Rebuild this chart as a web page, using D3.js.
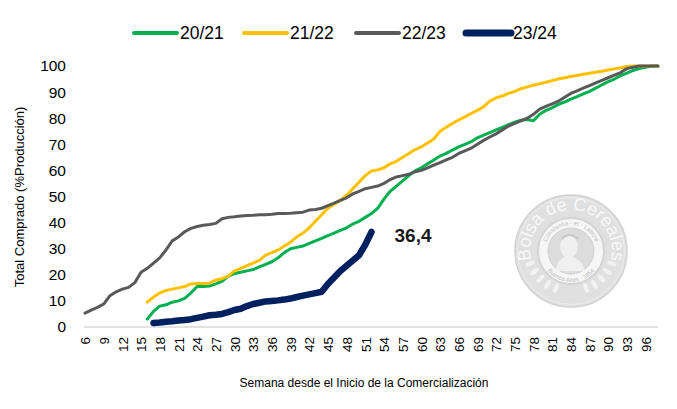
<!DOCTYPE html>
<html>
<head>
<meta charset="utf-8">
<script src="https://cdn.jsdelivr.net/npm/d3@7/dist/d3.min.js"></script>
<style>
  html, body { margin: 0; padding: 0; background: #fff; }
  svg { display: block; }
  text { font-family: "Liberation Sans", Arial, sans-serif; }
</style>
</head>
<body>
<svg id="chart" width="677" height="409"></svg>
<script>
// ---------- DATA ----------
const weeks = [6,7,8,9,10,11,12,13,14,15,16,17,18,19,20,21,22,23,24,25,26,27,28,29,30,31,32,33,34,35,36,37,38,39,40,41,42,43,44,45,46,47,48,49,50,51,52,53,54,55,56,57,58,59,60,61,62,63,64,65,66,67,68,69,70,71,72,73,74,75,76,77,78,79,80,81,82,83,84,85,86,87,88,89,90,91,92,93,94,95,96,97,98];
const tickWeeks = [6,9,12,15,18,21,24,27,30,33,36,39,42,45,48,51,54,57,60,63,66,69,72,75,78,81,84,87,90,93,96];
const yTicks = [0,10,20,30,40,50,60,70,80,90,100];
const seriesNames = ["20/21","21/22","22/23","23/24"];

// values aligned with weeks (null = no data)
const s2021 = [null,null,null,null,null,null,null,null,null,null,
  3,6,8,8.5,9.5,10,11,13,15.5,15.5,15.7,16.5,17.5,19.5,20.5,21,21.5,22,23,24,25,26.5,28.5,30,30.5,31,32,33,34,35,36,37,38,39.5,
  40.5,42,43.5,45.5,49,52,54,56,58,59.8,61,62.5,64,65.5,66.5,67.8,69,70,71,72.5,73.5,74.5,75.5,76.5,77.5,78.5,79.2,79.5,79,81.5,
  83,84,85.3,86.2,87.3,88.3,89.3,90.3,91.5,92.8,94,95,96.3,97.3,98.3,99,99.5,100,100];
const s2122 = [null,null,null,null,null,null,null,null,null,null,
  9.5,11.5,13,14,14.5,15,15.5,16.5,16.7,16.7,16.8,18,18.5,19.5,21.5,22.5,23.5,24.5,25.5,27.5,28.5,29.5,31,32.5,34.5,36,38,40.5,43,45.5,
  47,48.5,50.5,53,55.5,58,59.8,60.2,61,62.5,63.5,65,66.5,68,69,70.5,72,75,76.5,78,79.3,80.5,81.8,83,84.4,86.5,87.8,88.5,89.5,90.3,
  91.3,92,92.6,93.2,93.8,94.4,95,95.5,96,96.4,96.8,97.2,97.6,98,98.5,98.9,99.3,99.8,100,100,100,100,100];
const s2223 = [5.3,6.5,7.5,8.8,12,13.5,14.5,15.2,17,21,22.5,24.5,26.5,29.5,33,34.5,36.5,37.8,38.5,39,39.3,39.7,41.5,42,42.2,42.5,42.7,42.8,43,43,
  43.2,43.5,43.5,43.6,43.8,44,44.8,45,45.5,46.5,47.5,48.5,49.5,51,52,53,53.5,54,55,56.5,57.5,58,58.5,59.5,60,61,62,63,64,65,
  66.5,67.5,68.5,70,71.5,72.8,74,75.5,77,78,79,80,81.5,83.5,84.5,85.5,86.5,88,89.5,90.5,91.5,92.5,93.5,94.5,95.5,96.5,97.5,99,99.5,100,
  100,100,100];
const s2324 = [null,null,null,null,null,null,null,null,null,null,null,
  1.5,1.7,2,2.2,2.5,2.7,3,3.5,4,4.5,4.7,5,5.7,6.5,7,8,8.8,9.3,9.8,10,10.2,10.5,10.9,11.5,12,12.5,13,13.5,16.5,19,21.5,23.5,25.5,27.5,31.5,36.4,
  null,null,null,null,null,null,null,null,null,null,null,null,null,null,null,null,null,null,null,null,null,null,null,null,null,null,null,null,null,null,null,null,null,null,null,null,null,null,null,null,null,null,null,null,null,null];
const lastLabel = "36,4";
const logoTexts = ["Bolsa de Cereales", "· Constantia · et · Labore ·", "Buenos Aires · 1854"];

// ---------- STYLE ----------
const colors = ["#00b050","#ffc000","#595959","#002060"];
const widths = [3,3,3,6.5];
const allSeries = [s2021, s2122, s2223, s2324];

const svg = d3.select("#chart");

// ---------- WATERMARK ----------
(function watermark(){
  const cx = 571, cy = 251;
  const g = svg.append("g").attr("transform", `translate(${cx},${cy})`);
  g.append("circle").attr("r", 56).attr("fill", "#e0e0e0").attr("stroke", "#d3d3d3").attr("stroke-width", 1.5);
  g.append("circle").attr("r", 53.5).attr("fill", "none").attr("stroke", "#f0f0f0").attr("stroke-width", 0.8);
  g.append("circle").attr("r", 33).attr("fill", "#f6f6f6").attr("stroke", "#d3d3d3").attr("stroke-width", 2);
  g.append("circle").attr("r", 23).attr("fill", "#dcdcdc").attr("stroke", "#d0d0d0").attr("stroke-width", 1);
  const defs = svg.append("defs");
  const a0 = 0.45;
  defs.append("path").attr("id", "arcTop")
    .attr("d", `M ${cx-41*Math.cos(a0)},${cy+41*Math.sin(a0)} A 41 41 0 1 1 ${cx+41*Math.cos(a0)},${cy+41*Math.sin(a0)}`);
  defs.append("path").attr("id", "arcInnerTop")
    .attr("d", `M ${cx-26},${cy} A 26 26 0 0 1 ${cx+26},${cy}`);
  defs.append("path").attr("id", "arcInnerBot")
    .attr("d", `M ${cx-31},${cy} A 31 31 0 0 0 ${cx+31},${cy}`);
  // one text element, three text paths (logo lettering)
  const t = svg.append("text").attr("font-family", "Liberation Serif, serif");
  t.append("textPath").attr("href", "#arcTop").attr("startOffset", "50%").attr("text-anchor", "middle")
    .attr("font-size", 18).attr("fill", "#f8f8f8").text(logoTexts[0]);
  t.append("textPath").attr("href", "#arcInnerTop").attr("startOffset", "50%").attr("text-anchor", "middle")
    .attr("font-size", 6).attr("fill", "#bcbcbc").text(logoTexts[1]);
  t.append("textPath").attr("href", "#arcInnerBot").attr("startOffset", "50%").attr("text-anchor", "middle")
    .attr("font-size", 6).attr("fill", "#bcbcbc").text(logoTexts[2]);
  // simple bust
  g.append("ellipse").attr("cx", -2).attr("cy", -4).attr("rx", 9).attr("ry", 11).attr("fill", "#f0f0f0");
  g.append("path").attr("d", "M -16,20 Q -12,4 -2,6 Q 10,6 14,20 Z").attr("fill", "#f0f0f0");
  g.append("path").attr("d", "M -9,-12 Q -2,-20 7,-12").attr("fill", "none").attr("stroke", "#c8c8c8").attr("stroke-width", 2);
  // wreath leaves
  [-1,1].forEach(s => {
    for (let i = 0; i < 5; i++) {
      const a = (110 + i*12) * Math.PI/180;
      g.append("ellipse")
        .attr("cx", s*44*Math.cos(a)).attr("cy", 44*Math.sin(a) - 4)
        .attr("rx", 2.2).attr("ry", 5)
        .attr("transform", `rotate(${s*(i*12+20)}, ${s*44*Math.cos(a)}, ${44*Math.sin(a)-4})`)
        .attr("fill", "#f2f2f2");
    }
  });
})();

// ---------- SCALES ----------
const x = d3.scalePoint().domain(weeks).range([85, 658]);
const y = d3.scaleLinear().domain([0, 100]).range([327, 66]);

// ---------- AXES ----------
const xAxis = d3.axisBottom(x).tickValues(tickWeeks).tickSize(0).tickPadding(0);
const gx = svg.append("g").attr("transform", "translate(0,327)").call(xAxis);
gx.select(".domain").attr("stroke", "#d9d9d9").attr("stroke-width", 1.5).attr("d", "M84,0H658");
gx.selectAll(".tick text")
  .attr("font-family", "Liberation Sans, Arial, sans-serif")
  .attr("font-size", 13.5).attr("fill", "#000")
  .attr("text-anchor", "end")
  .attr("transform", "rotate(-90)")
  .attr("x", -10).attr("y", 0).attr("dy", "0.35em");

const yAxis = d3.axisLeft(y).tickValues(yTicks).tickSize(0).tickPadding(18);
const gy = svg.append("g").attr("transform", "translate(84,0)").call(yAxis);
gy.select(".domain").remove();
gy.selectAll(".tick text")
  .attr("font-family", "Liberation Sans, Arial, sans-serif")
  .attr("font-size", 15.5).attr("fill", "#000");

// axis titles
svg.append("text").attr("transform", "translate(24,197) rotate(-90)")
  .attr("text-anchor", "middle").attr("font-size", 13).attr("fill", "#000")
  .text("Total Comprado (%Producción)");
svg.append("text").attr("x", 364).attr("y", 387)
  .attr("text-anchor", "middle").attr("font-size", 12).attr("fill", "#000")
  .text("Semana desde el Inicio de la Comercialización");

// ---------- LINES ----------
const line = d3.line()
  .defined(d => d.v != null)
  .x(d => x(d.w)).y(d => y(d.v));

allSeries.forEach((s, i) => {
  const pts = weeks.map((w, j) => ({ w, v: s[j] }));
  svg.append("path").datum(pts)
    .attr("fill", "none")
    .attr("stroke", colors[i])
    .attr("stroke-width", widths[i])
    .attr("stroke-linejoin", "round")
    .attr("stroke-linecap", "round")
    .attr("d", line);
});

// last value label
const lastIdx = s2324.reduce((acc, v, j) => v != null ? j : acc, 0);
svg.append("text")
  .attr("x", x(weeks[lastIdx]) + 23).attr("y", y(s2324[lastIdx]) + 10)
  .attr("font-size", 19).attr("font-weight", "bold").attr("fill", "#1a1a1a")
  .text(lastLabel);

// ---------- LEGEND ----------
const legendX = [134, 244, 356, 466];
const lg = svg.append("g");
seriesNames.forEach((n, i) => {
  const gi = lg.append("g").attr("transform", `translate(${legendX[i]},33)`);
  gi.append("line").attr("x1", 0).attr("x2", i === 3 ? 45 : 43).attr("y1", 0).attr("y2", 0)
    .attr("stroke", colors[i]).attr("stroke-width", i === 3 ? 7 : 4).attr("stroke-linecap", "round");
  gi.append("text").attr("x", i === 3 ? 47 : 46).attr("y", 0).attr("dy", "0.36em")
    .attr("font-size", 17.5).attr("fill", "#000").text(n);
});
</script>
</body>
</html>
